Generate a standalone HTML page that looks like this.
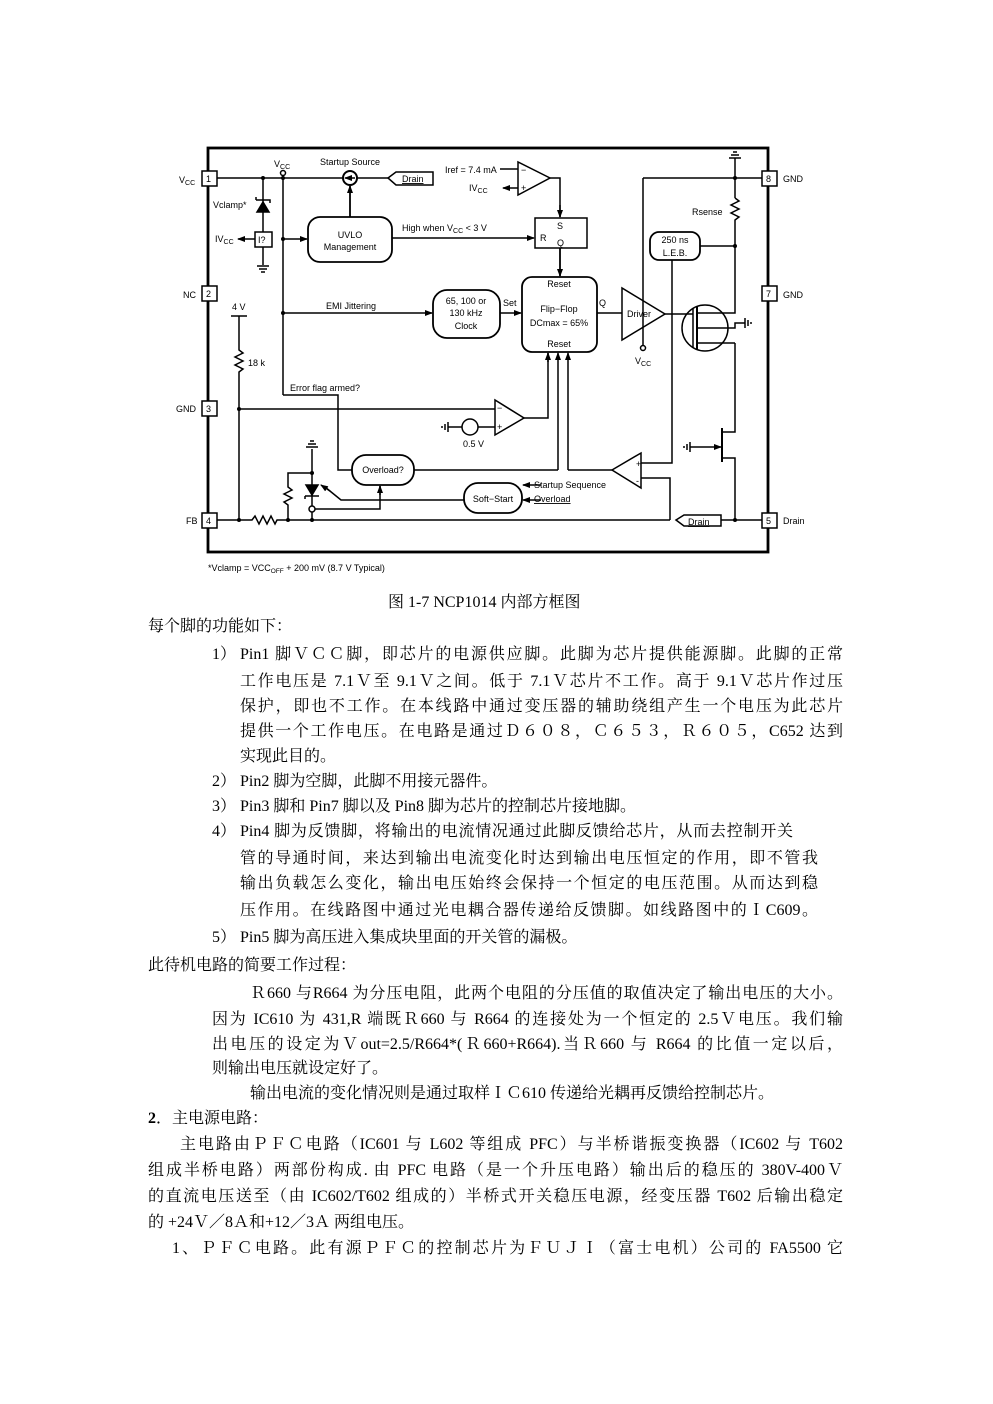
<!DOCTYPE html>
<html><head><meta charset="utf-8"><style>
html,body{margin:0;padding:0;background:#fff;}
body{width:993px;height:1404px;position:relative;overflow:hidden;}
.t{position:absolute;font-family:"Liberation Serif","Noto Serif CJK SC",serif;font-size:16px;line-height:20px;color:#000;white-space:nowrap;}
.j{text-align:justify;text-align-last:justify;white-space:normal;}
svg text{font-family:"Liberation Sans",sans-serif;font-size:9px;fill:#000;}
</style></head><body>
<svg width="993" height="600" style="position:absolute;left:0;top:0" viewBox="0 0 993 600">
<defs><marker id="a" markerWidth="8" markerHeight="8" refX="7" refY="4" orient="auto" markerUnits="userSpaceOnUse"><path d="M0,1 L8,4 L0,7 z" fill="#000"/></marker></defs>
<g fill="none" stroke="#000" stroke-width="1.5">
<rect x="208" y="148" width="560" height="404" stroke-width="2.8"/>
<line x1="217" y1="178" x2="343" y2="178"/><line x1="357" y1="178" x2="388" y2="178"/>
<circle cx="350" cy="178" r="7" stroke-width="2"/>
<line x1="355" y1="178" x2="345" y2="178" marker-end="url(#a)"/>
<path d="M388,178 L396,172 L433,172 L433,185 L396,185 Z"/>
<line x1="350" y1="217" x2="350" y2="186" marker-end="url(#a)" stroke-width="1.8"/>
<line x1="263" y1="178" x2="263" y2="232"/>
<path d="M257,212 L269,212 L263,202 Z" fill="#000"/><path d="M256,200 L270,200 L270,203 M256,200 L256,197"/>
<rect x="255" y="232" width="17" height="15" fill="#fff"/>
<line x1="263" y1="247" x2="263" y2="265"/>
<path d="M257,266 L269,266 M259,269 L267,269 M261,272 L265,272"/>
<line x1="255" y1="239" x2="238" y2="239" marker-end="url(#a)"/>
<circle cx="283" cy="173" r="2.5" fill="#fff"/>
<line x1="283" y1="176" x2="283" y2="395"/>
<line x1="283" y1="239" x2="307" y2="239" marker-end="url(#a)"/>
<rect x="308" y="217" width="84" height="45" rx="12" stroke-width="1.8"/>
<line x1="392" y1="238" x2="534" y2="238" marker-end="url(#a)"/>
<line x1="283" y1="313" x2="432" y2="313" marker-end="url(#a)"/>
<rect x="433" y="290" width="67" height="48" rx="14" stroke-width="1.8"/>
<line x1="500" y1="313" x2="521" y2="313" marker-end="url(#a)"/>
<path d="M518,162 L518,195 L550,178 Z" stroke-width="1.5"/>
<line x1="500" y1="169" x2="518" y2="169"/>
<line x1="518" y1="188" x2="503" y2="188" marker-end="url(#a)"/>
<path d="M550,178 L560,178 L560,217" /><line x1="560" y1="205" x2="560" y2="217" marker-end="url(#a)"/>
<rect x="535" y="218" width="52" height="30"/>
<line x1="560" y1="248" x2="560" y2="276" marker-end="url(#a)" stroke-width="1.8"/>
<rect x="522" y="277" width="75" height="75" rx="10" stroke-width="1.8"/>
<line x1="597" y1="313" x2="622" y2="313"/>
<path d="M622,288 L622,340 L665,314 Z" stroke-width="1.5"/>
<line x1="643" y1="178" x2="643" y2="345"/><circle cx="643" cy="348" r="2.5" fill="#fff"/>
<line x1="643" y1="178" x2="763" y2="178"/>
<line x1="735" y1="158" x2="735" y2="198"/>
<path d="M729,158 L741,158 M731,155 L739,155 M733,152 L737,152"/>
<path d="M735,198 L739,201 L731,205 L739,209 L731,213 L739,217 L735,220 L735,313 L697,313"/>
<rect x="650" y="232" width="50" height="28" rx="9" stroke-width="1.8"/>
<line x1="700" y1="246" x2="735" y2="246"/>
<path d="M672,260 L672,463 L641,463"/>
<path d="M641,478 L670,478 L670,520"/>
<line x1="665" y1="314" x2="693" y2="314"/>
<circle cx="705" cy="328" r="23" stroke-width="1.5"/>
<line x1="693" y1="308" x2="693" y2="348"/>
<line x1="697" y1="306" x2="697" y2="350" stroke-width="2"/>
<path d="M697,328 L735,328 L735,323 L745,323"/><path d="M745,318 L745,328 M748,320 L748,326 M751,322 L751,324"/>
<line x1="697" y1="343" x2="735" y2="343"/>
<path d="M735,343 L735,432 L722,432"/>
<line x1="722" y1="428" x2="722" y2="462" stroke-width="2"/>
<path d="M722,458 L735,458 L735,520"/>
<line x1="690" y1="447" x2="721" y2="447" marker-end="url(#a)"/>
<path d="M690,442 L690,452 M687,444 L687,450 M684,446 L684,448"/>
<line x1="231" y1="316" x2="247" y2="316"/>
<path d="M239,316 L239,350 L243,353 L235,357 L243,361 L235,365 L243,369 L239,372 L239,520"/>
<path d="M283,395 L338,395 L338,470 L352,470"/>
<line x1="239" y1="409" x2="495" y2="409"/>
<path d="M495,400 L495,435 L524,418 Z" stroke-width="1.5"/>
<path d="M524,418 L548,418 L548,353"/>
<line x1="548" y1="362" x2="548" y2="353" marker-end="url(#a)"/>
<line x1="558" y1="470" x2="558" y2="353" marker-end="url(#a)"/>
<line x1="568" y1="470" x2="568" y2="353" marker-end="url(#a)"/>
<circle cx="470" cy="427" r="8"/>
<line x1="448" y1="427" x2="462" y2="427"/><line x1="478" y1="427" x2="495" y2="427"/>
<path d="M448,422 L448,432 M445,424 L445,430 M442,426 L442,428"/>
<rect x="352" y="455" width="62" height="30" rx="14" stroke-width="1.8"/>
<line x1="414" y1="470" x2="558" y2="470"/>
<path d="M568,470 L612,470"/>
<path d="M641,453 L641,488 L612,470 Z" stroke-width="1.5"/>
<rect x="464" y="483" width="58" height="30" rx="14" stroke-width="1.8"/>
<line x1="541" y1="485" x2="523" y2="485" marker-end="url(#a)"/>
<line x1="541" y1="500" x2="523" y2="500" marker-end="url(#a)"/>
<path d="M464,500 L341,500 L325,487" /><line x1="330" y1="491" x2="321" y2="485" marker-end="url(#a)"/>
<path d="M312,449 L312,520"/>
<path d="M306,447 L318,447 M308,444 L316,444 M310,441 L314,441"/>
<path d="M288,520 L288,505 L284,502 L292,498 L284,494 L292,490 L288,487 L288,473 L312,473"/>
<path d="M306,485 L318,485 L312,495 Z" fill="#000"/><path d="M305,496 L319,496 M305,496 L305,499"/>
<circle cx="312" cy="509" r="3" fill="#fff"/>
<path d="M315,509 L380,509 L380,486"/><line x1="380" y1="495" x2="380" y2="486" marker-end="url(#a)"/>
<path d="M217,520 L252,520 L255,516 L259,524 L263,516 L267,524 L271,516 L275,524 L277,520 L670,520"/>
<path d="M676,520 L684,515 L721,515 L721,526 L684,526 Z"/>
<line x1="721" y1="520" x2="763" y2="520"/>
</g>
<g fill="#000">
<circle cx="263" cy="178" r="2"/><circle cx="283" cy="178" r="2"/><circle cx="283" cy="239" r="2"/><circle cx="283" cy="313" r="2"/>
<circle cx="735" cy="178" r="2"/><circle cx="735" cy="246" r="2"/><circle cx="239" cy="409" r="2"/>
<circle cx="239" cy="520" r="2"/><circle cx="288" cy="520" r="2"/><circle cx="312" cy="520" r="2"/><circle cx="312" cy="473" r="2"/><circle cx="735" cy="520" r="2"/>
</g>
<g fill="#fff" stroke="#000" stroke-width="1.5">
<rect x="202" y="171" width="15" height="15"/><rect x="202" y="286" width="15" height="15"/><rect x="202" y="401" width="15" height="15"/><rect x="202" y="513" width="15" height="15"/>
<rect x="762" y="171" width="15" height="15"/><rect x="762" y="286" width="15" height="15"/><rect x="762" y="513" width="15" height="15"/>
</g>
<text x="206" y="182">1</text><text x="206" y="297">2</text><text x="206" y="412">3</text><text x="206" y="524">4</text>
<text x="766" y="182">8</text><text x="766" y="297">7</text><text x="766" y="524">5</text>
<text x="179" y="183">V<tspan font-size="7" dy="2">CC</tspan></text>
<text x="183" y="298">NC</text><text x="176" y="412">GND</text><text x="186" y="524">FB</text>
<text x="783" y="182">GND</text><text x="783" y="298">GND</text><text x="783" y="524">Drain</text>
<text x="274" y="167">V<tspan font-size="7" dy="2">CC</tspan></text>
<text x="320" y="165">Startup Source</text>
<text x="402" y="182" text-decoration="underline">Drain</text>
<text x="213" y="208">Vclamp*</text>
<text x="215" y="242">IV<tspan font-size="7" dy="2">CC</tspan></text>
<text x="258" y="243">I?</text>
<text x="350" y="238" text-anchor="middle">UVLO</text><text x="350" y="250" text-anchor="middle">Management</text>
<text x="402" y="231">High when V<tspan font-size="7" dy="2">CC</tspan><tspan dy="-2"> &lt; 3 V</tspan></text>
<text x="445" y="173">Iref = 7.4 mA</text>
<text x="469" y="191">IV<tspan font-size="7" dy="2">CC</tspan></text>
<text x="521" y="173" font-size="8">−</text><text x="521" y="191" font-size="8">+</text>
<text x="557" y="229">S</text><text x="540" y="241">R</text><text x="557" y="246">Q</text>
<text x="559" y="287" text-anchor="middle">Reset</text>
<text x="559" y="312" text-anchor="middle">Flip−Flop</text>
<text x="559" y="326" text-anchor="middle">DCmax = 65%</text>
<text x="559" y="347" text-anchor="middle">Reset</text>
<text x="503" y="306">Set</text><text x="599" y="306">Q</text>
<text x="627" y="317">Driver</text>
<text x="635" y="364">V<tspan font-size="7" dy="2">CC</tspan></text>
<text x="692" y="215">Rsense</text>
<text x="675" y="243" text-anchor="middle">250 ns</text><text x="675" y="256" text-anchor="middle">L.E.B.</text>
<text x="466" y="304" text-anchor="middle">65, 100 or</text><text x="466" y="316" text-anchor="middle">130 kHz</text><text x="466" y="329" text-anchor="middle">Clock</text>
<text x="326" y="309">EMI Jittering</text>
<text x="232" y="310">4 V</text><text x="248" y="366">18 k</text>
<text x="290" y="391">Error flag armed?</text>
<text x="497" y="411" font-size="8">−</text><text x="497" y="430" font-size="8">+</text>
<text x="463" y="447">0.5 V</text>
<text x="383" y="473" text-anchor="middle">Overload?</text>
<text x="493" y="502" text-anchor="middle">Soft−Start</text>
<text x="534" y="488">Startup Sequence</text>
<text x="534" y="502" text-decoration="underline">Overload</text>
<text x="636" y="467" font-size="8">+</text><text x="636" y="484" font-size="8">-</text>
<text x="688" y="525" text-decoration="underline">Drain</text>
<text x="208" y="571" font-size="8.5">*Vclamp = VCC<tspan font-size="6.5" dy="2">OFF</tspan><tspan dy="-2"> + 200 mV (8.7 V Typical)</tspan></text>
</svg>

<div class="t" style="left:388px;top:593px;">图 1-7 NCP1014 内部方框图</div>
<div class="t" style="left:148px;top:617px;">每个脚的功能如下：</div>
<div class="t" style="left:212px;top:645px;">1）</div>
<div class="t j" style="left:240px;top:645px;width:603px;">Pin1 脚ＶＣＣ脚，即芯片的电源供应脚。此脚为芯片提供能源脚。此脚的正常</div>
<div class="t j" style="left:240px;top:672px;width:603px;">工作电压是 7.1Ｖ至 9.1Ｖ之间。低于 7.1Ｖ芯片不工作。高于 9.1Ｖ芯片作过压</div>
<div class="t j" style="left:240px;top:697px;width:603px;">保护，即也不工作。在本线路中通过变压器的辅助绕组产生一个电压为此芯片</div>
<div class="t j" style="left:240px;top:722px;width:603px;">提供一个工作电压。在电路是通过Ｄ６０８，Ｃ６５３，Ｒ６０５，C652 达到</div>
<div class="t" style="left:240px;top:747px;">实现此目的。</div>
<div class="t" style="left:212px;top:772px;">2）</div><div class="t" style="left:240px;top:772px;">Pin2 脚为空脚，此脚不用接元器件。</div>
<div class="t" style="left:212px;top:797px;">3）</div><div class="t" style="left:240px;top:797px;">Pin3 脚和 Pin7 脚以及 Pin8 脚为芯片的控制芯片接地脚。</div>
<div class="t" style="left:212px;top:822px;">4）</div>
<div class="t j" style="left:240px;top:822px;width:553px;">Pin4 脚为反馈脚，将输出的电流情况通过此脚反馈给芯片，从而去控制开关</div>
<div class="t j" style="left:240px;top:849px;width:578px;">管的导通时间，来达到输出电流变化时达到输出电压恒定的作用，即不管我</div>
<div class="t j" style="left:240px;top:874px;width:578px;">输出负载怎么变化，输出电压始终会保持一个恒定的电压范围。从而达到稳</div>
<div class="t j" style="left:240px;top:901px;width:578px;">压作用。在线路图中通过光电耦合器传递给反馈脚。如线路图中的ＩC609。</div>
<div class="t" style="left:212px;top:928px;">5）</div><div class="t" style="left:240px;top:928px;">Pin5 脚为高压进入集成块里面的开关管的漏极。</div>
<div class="t" style="left:148px;top:956px;">此待机电路的简要工作过程：</div>
<div class="t j" style="left:250px;top:984px;width:593px;">Ｒ660 与R664 为分压电阻，此两个电阻的分压值的取值决定了输出电压的大小。</div>
<div class="t j" style="left:212px;top:1010px;width:631px;">因为 IC610 为 431,R 端既Ｒ660 与 R664 的连接处为一个恒定的 2.5Ｖ电压。我们输</div>
<div class="t j" style="left:212px;top:1035px;width:631px;">出电压的设定为Ｖout=2.5/R664*(Ｒ660+R664).当Ｒ660 与 R664 的比值一定以后，</div>
<div class="t" style="left:212px;top:1059px;">则输出电压就设定好了。</div>
<div class="t" style="left:250px;top:1084px;">输出电流的变化情况则是通过取样ＩＣ610 传递给光耦再反馈给控制芯片。</div>
<div class="t" style="left:148px;top:1109px;"><b>2</b>．主电源电路：</div>
<div class="t j" style="left:180px;top:1135px;width:663px;">主电路由ＰＦＣ电路（IC601 与 L602 等组成 PFC）与半桥谐振变换器（IC602 与 T602</div>
<div class="t j" style="left:148px;top:1161px;width:695px;">组成半桥电路）两部份构成. 由 PFC 电路（是一个升压电路）输出后的稳压的 380V-400Ｖ</div>
<div class="t j" style="left:148px;top:1187px;width:695px;">的直流电压送至（由 IC602/T602 组成的）半桥式开关稳压电源，经变压器 T602 后输出稳定</div>
<div class="t" style="left:148px;top:1213px;">的 +24Ｖ／8Ａ和+12／3Ａ 两组电压。</div>
<div class="t j" style="left:172px;top:1239px;width:671px;">1、ＰＦＣ电路。此有源ＰＦＣ的控制芯片为ＦＵＪＩ（富士电机）公司的 FA5500 它</div>
</body></html>
